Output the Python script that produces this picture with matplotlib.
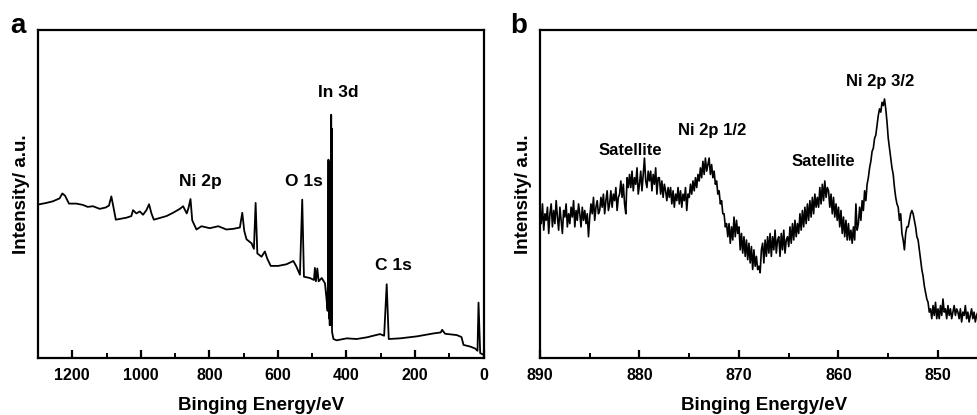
import numpy as np
import matplotlib

matplotlib.use("Agg")
import matplotlib.pyplot as plt
from matplotlib.ticker import MultipleLocator

plt.rcParams["font.family"] = ["Liberation Sans", "DejaVu Sans"]
plt.rcParams["font.weight"] = "bold"

# (a) survey scan
survey_energy = [
    1300, 1276, 1256.5, 1237, 1229, 1221, 1209.7, 1188, 1169, 1155, 1139.6, 1120, 1102.6, 1093,
    1086, 1080, 1073, 1042, 1027.6, 1022.7, 1013, 1003, 993.5, 983.7, 976, 969, 962, 945, 925,
    906, 886, 876.6, 870.8, 866, 861, 855, 850, 837.6, 823, 798.7, 774, 750, 730.5, 711, 704,
    698, 691.5, 677, 670, 665, 660, 647.7, 638, 631, 621, 599, 574.7, 555, 547, 535.7, 529,
    524, 506.5, 494.8, 492, 489, 485, 481, 472, 462.7, 458, 455, 453.5, 452.5, 451.8, 451,
    450.2, 449.5, 448.7, 448, 447.2, 446.5, 445.5, 444.5, 443.5, 443, 442, 438,
    428.6, 399, 370, 341, 302, 290, 282.5, 276.6, 243.5, 194.8, 146, 124.7, 120.8, 112, 78,
    64.3, 58.4, 39, 24.4, 17.5, 14.6, 9.7, 2,
]
survey_counts = [
    46.8, 47.3, 47.8, 48.7, 50.2, 49.5, 47.1, 47.1, 46.7, 46.1, 46.3, 45.5, 45.9, 46.5,
    49.3, 46.1, 42.2, 42.8, 43.3, 45.1, 44.1, 44.7, 43.7, 45.1, 46.9, 44.1, 42.2, 42.7, 43.3,
    44.3, 45.5, 46.3, 45.1, 44.1, 45.7, 48.5, 42.0, 39.2, 40.2, 39.6, 40.2, 39.2, 39.4, 39.8, 44.3,
    38.7, 36.2, 35.0, 33.3, 47.3, 31.9, 30.9, 32.5, 30.3, 28.1, 28.1, 28.6, 29.6, 28.1, 25.4, 48.3,
    24.8, 24.4, 23.8, 27.5, 23.4, 27.3, 23.4, 24.4, 22.8, 17.9, 14.4, 30.0, 60.5, 20.0, 55.0,
    12.0, 50.0, 10.0, 52.0, 10.0, 60.0, 15.0, 74.2, 12.0, 70.0, 8.0, 5.8,
    5.4, 6.0, 5.8, 6.3, 7.3, 6.8, 22.5, 5.8, 6.0, 6.6, 7.5, 7.8, 8.6, 7.4, 7.0,
    6.4, 4.0, 3.5, 2.9, 2.2, 16.9, 1.5, 1.1,
]
survey_labels = ["Ni 2p", "O 1s", "In 3d", "C 1s"]
survey_label_x = [827, 523, 425, 262]
survey_label_y = [52.4, 52.4, 79.7, 27.0]

# (b) Ni 2p region, 0.125 eV steps from 890 eV down (one row per eV)
ni_energy = np.linspace(890, 845.125, 360)
ni_counts = [
    45, 41, 47, 39, 44, 42, 46, 38,
    44, 47, 40, 45, 41, 48, 43, 39,
    46, 42, 38, 45, 43, 47, 40, 44,
    41, 46, 43, 48, 40, 45, 42, 47,
    44, 40, 46, 42, 45, 41, 44, 37,
    43, 47, 44, 49, 42, 46, 48, 44,
    45, 49, 46, 50, 44, 48, 51, 45,
    47, 51, 46, 50, 48, 52, 45, 49,
    50, 54, 49, 53, 47, 44, 55, 52,
    56, 52, 57, 51, 55, 53, 58, 50,
    53, 57, 51, 56, 61, 54, 52, 57,
    54, 57, 51, 56, 53, 58, 50, 55,
    55, 50, 54, 49, 53, 51, 48, 52,
    49, 52, 47, 51, 46, 50, 48, 52,
    47, 51, 46, 50, 48, 52, 45, 50,
    49, 53, 50, 54, 51, 55, 52, 56,
    54, 58, 55, 60, 56, 61, 57, 59,
    61, 56, 59, 55, 57, 53, 54, 50,
    51, 47, 48, 44, 44, 40, 41, 37,
    41, 35, 40, 36, 43, 37, 42, 38,
    40, 33, 38, 32, 37, 31, 36, 30,
    35, 29, 34, 27, 33, 28, 31, 27,
    28, 26, 33, 35, 29, 36, 31, 37,
    32, 38, 31, 37, 33, 39, 32, 36,
    37, 31, 38, 33, 39, 32, 36, 37,
    34, 40, 35, 41, 36, 42, 37, 41,
    38, 44, 39, 45, 40, 46, 41, 47,
    42, 48, 43, 49, 44, 50, 46, 49,
    46, 52, 47, 53, 48, 54, 49, 52,
    51, 46, 50, 44, 49, 43, 47, 42,
    46, 40, 45, 38, 43, 37, 42, 36,
    41, 36, 39, 35, 40, 36, 47, 39,
    41, 46, 42, 48, 45, 51, 48, 53,
    55, 58, 60, 63, 64, 67, 68, 71,
    74, 76, 75, 78, 77, 79, 76, 72,
    67, 64, 61, 58, 56, 52, 49, 47,
    46, 42, 44, 38, 36, 33, 38, 40,
    40, 42, 44, 45, 44, 42, 40, 37,
    36, 33, 30, 27, 25, 22, 20, 18,
    17, 14, 15, 12, 16, 13, 17, 12,
    15, 12, 16, 13, 18, 14, 15, 12,
    16, 13, 15, 12, 14, 16, 13, 15,
    14, 12, 15, 11, 14, 13, 16, 12,
    14, 11, 13, 15, 12, 14, 11, 13,
    14, 12, 13, 11, 14, 12, 13, 11,
]
ni_labels = ["Satellite", "Ni 2p 1/2", "Satellite", "Ni 2p 3/2"]
ni_label_x = [880.9, 872.7, 861.5, 855.8]
ni_label_y = [61.9, 68.0, 58.5, 82.9]

fig = plt.figure(figsize=(9.77, 4.15), dpi=100)
ax_a = fig.add_axes([0.0389, 0.1373, 0.456, 0.790])
ax_b = fig.add_axes([0.5527, 0.1373, 0.4583, 0.790])

ax_a.plot(survey_energy, survey_counts, color="black", linewidth=1.3)
ax_a.set_xlim(1300, 0)
ax_a.xaxis.set_major_locator(MultipleLocator(200))
ax_a.xaxis.set_minor_locator(MultipleLocator(100))
for text, x, y in zip(survey_labels, survey_label_x, survey_label_y):
    ax_a.text(x, y, text, ha="center", va="baseline", fontsize=12.5, fontweight="bold")

ax_b.plot(ni_energy, ni_counts, color="black", linewidth=1.2)
ax_b.set_xlim(890, 845)
ax_b.xaxis.set_major_locator(MultipleLocator(10))
ax_b.xaxis.set_minor_locator(MultipleLocator(5))
for text, x, y in zip(ni_labels, ni_label_x, ni_label_y):
    ax_b.text(x, y, text, ha="center", va="baseline", fontsize=12, fontweight="bold")

for ax in (ax_a, ax_b):
    ax.set_ylim(0, 100)
    ax.set_yticks([])
    for spine in ax.spines.values():
        spine.set_linewidth(1.6)
    ax.tick_params(axis="x", which="major", direction="in", length=6, width=1.6,
                   labelsize=11.5, pad=7)
    ax.tick_params(axis="x", which="minor", direction="in", length=3.5, width=1.4)
    ax.set_xlabel("Binging Energy/eV", fontsize=13.5, fontweight="bold", labelpad=10)
    ax.set_ylabel("Intensity/ a.u.", fontsize=13.5, fontweight="bold", labelpad=6)
    for label in ax.get_xticklabels():
        label.set_fontweight("bold")

fig.text(0.011, 0.920, "a", fontsize=20, fontweight="bold", va="baseline")
fig.text(0.522, 0.920, "b", fontsize=20, fontweight="bold", va="baseline")

fig.savefig("out.png", dpi=100)
